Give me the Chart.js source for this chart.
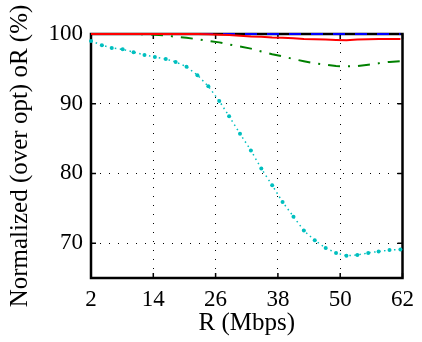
<!DOCTYPE html>
<html>
<head>
<meta charset="utf-8">
<script src="https://cdn.jsdelivr.net/npm/chart.js@4.4.0/dist/chart.umd.min.js"></script>
<style>
  body { margin: 0; background: #fff; }
  canvas { display: block; }
</style>
</head>
<body>
<canvas id="ratioChart" width="422" height="342"></canvas>
<script>
// R values (Mbps) of the samples
const rates = [2, 4.1, 6, 8.1, 10.2, 12.3, 14.3, 16.4, 18.3, 20.4, 22.5, 24.6, 26.7, 28.6, 30.7,
               32.8, 34.8, 36.9, 38.9, 41, 43, 45.1, 47.2, 49.2, 51.2, 53.3, 55.4, 57.4, 59.5, 61.6];

// normalized oR (%) per scheme
const blueVals = [100, 100, 100, 100, 100, 100, 100, 100, 100, 100, 100, 100, 100, 100, 100,
                  100, 100, 100, 100, 100, 100, 100, 100, 100, 100, 100, 100, 100, 100, 100];
const redVals = [100, 100, 100, 100, 100, 100, 100, 100, 100, 100, 100, 99.95, 99.9, 99.85, 99.75,
                 99.65, 99.6, 99.5, 99.45, 99.4, 99.3, 99.25, 99.2, 99.15, 99.1, 99.2, 99.25, 99.3, 99.3, 99.3];
const greenVals = [100, 100, 100, 100, 99.99, 99.95, 99.9, 99.8, 99.6, 99.45, 99.25, 99.0, 98.8, 98.5, 98.2,
                   97.9, 97.5, 97.1, 96.8, 96.4, 96.1, 95.8, 95.6, 95.4, 95.35, 95.4, 95.6, 95.8, 96.0, 96.1];
const cyanVals = [99.0, 98.4, 98.0, 97.8, 97.4, 97.0, 96.7, 96.4, 96.0, 95.3, 94.1, 92.5, 90.4, 88.2, 85.7,
                  83.3, 80.7, 78.3, 75.9, 73.8, 71.8, 70.4, 69.3, 68.6, 68.2, 68.3, 68.6, 68.8, 69.0, 69.1];

const xTicks = [2, 14, 26, 38, 50, 62];
const yTicks = [70, 80, 90, 100];

function pts(vals) {
    return rates.map((r, i) => ({ x: r, y: vals[i] }));
}

const serif = "'Liberation Serif', serif";
Chart.defaults.font.family = serif;
Chart.defaults.font.size = 23;
Chart.defaults.color = '#000';

// box around the plot with small inward ticks, drawn under the lines
const boxPlugin = {
    id: 'box',
    beforeDatasetsDraw(chart) {
        const { ctx, chartArea: a, scales } = chart;
        ctx.save();
        ctx.strokeStyle = '#000';
        ctx.lineWidth = 1.5;
        ctx.beginPath();
        xTicks.forEach(v => {
            const px = scales.x.getPixelForValue(v);
            ctx.moveTo(px, a.bottom); ctx.lineTo(px, a.bottom - 5);
            ctx.moveTo(px, a.top); ctx.lineTo(px, a.top + 5);
        });
        yTicks.forEach(v => {
            const py = scales.y.getPixelForValue(v);
            ctx.moveTo(a.left, py); ctx.lineTo(a.left + 5, py);
            ctx.moveTo(a.right, py); ctx.lineTo(a.right - 5, py);
        });
        ctx.stroke();
        ctx.lineWidth = 2.5;
        ctx.strokeRect(a.left, a.top, a.right - a.left, a.bottom - a.top);
        ctx.restore();
    }
};

new Chart(document.getElementById('ratioChart').getContext('2d'), {
    type: 'line',
    data: {
        datasets: [
            {
                data: pts(redVals),
                borderColor: '#ff0000',
                borderWidth: 2,
                pointRadius: 0,
                clip: 4,
            },
            {
                data: pts(blueVals),
                borderColor: '#0000ff',
                borderWidth: 2,
                borderDash: [12, 10],
                pointRadius: 0,
                clip: 4,
            },
            {
                data: pts(greenVals),
                borderColor: '#008000',
                borderWidth: 2,
                borderDash: [12, 8, 2, 8],
                pointRadius: 0,
                clip: 4,
            },
            {
                data: pts(cyanVals),
                borderColor: '#00bfbf',
                backgroundColor: '#00bfbf',
                borderWidth: 1.5,
                borderDash: [1.5, 3.5],
                pointRadius: 2,
                pointBorderWidth: 0,
                clip: 4,
            },
        ],
    },
    options: {
        responsive: false,
        animation: false,
        layout: { padding: { top: 34, right: 15, left: 0, bottom: 0 } },
        plugins: {
            legend: { display: false },
            tooltip: { enabled: false },
        },
        scales: {
            x: {
                type: 'linear',
                min: 2,
                max: 62,
                afterBuildTicks: s => { s.ticks = xTicks.map(v => ({ value: v })); },
                afterFit: s => { s.height = 64; },
                grid: { color: '#000', lineWidth: 1, drawTicks: false },
                border: { display: false, dash: [1, 8] },
                ticks: { padding: 8, maxRotation: 0 },
                title: {
                    display: true,
                    text: 'R (Mbps)',
                    padding: { top: 0, bottom: 4 },
                    font: { size: 25 },
                },
            },
            y: {
                min: 65,
                max: 100,
                afterBuildTicks: s => { s.ticks = yTicks.map(v => ({ value: v })); },
                afterFit: s => { s.width = 91; },
                grid: { color: '#000', lineWidth: 1, drawTicks: false },
                border: { display: false, dash: [1, 8] },
                ticks: { padding: 8 },
                title: {
                    display: true,
                    text: 'Normalized (over opt) oR (%)',
                    padding: { top: 5, bottom: 0 },
                    font: { size: 25 },
                },
            },
        },
    },
    plugins: [boxPlugin],
});
</script>
</body>
</html>
